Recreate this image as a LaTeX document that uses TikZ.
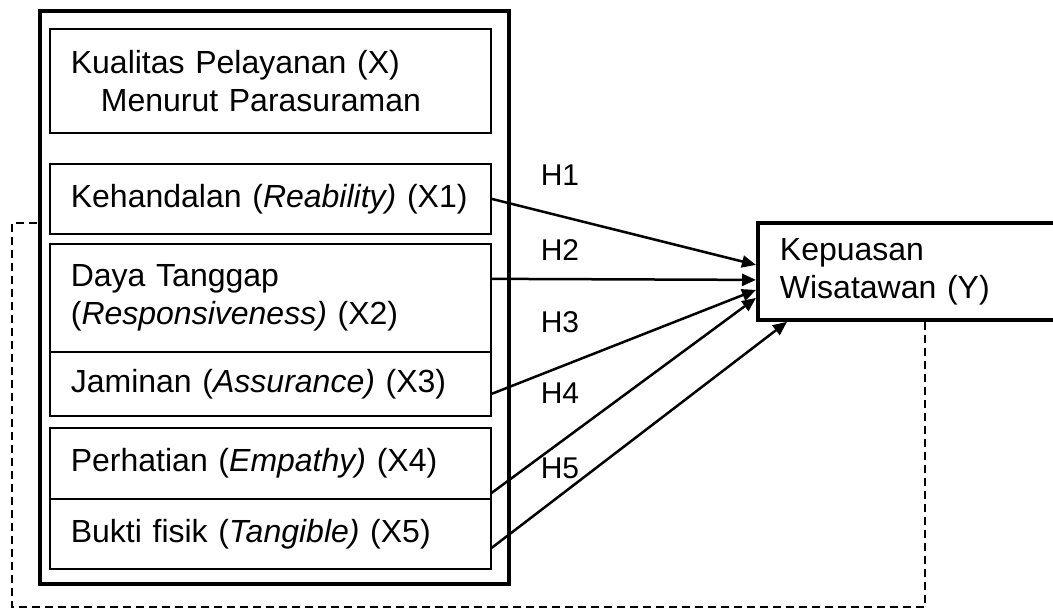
\documentclass[tikz,border=0pt]{standalone}
\usepackage{fontspec}
\setmainfont{Liberation Sans}
\usetikzlibrary{arrows.meta}
\begin{document}
\begin{tikzpicture}[x=0.5pt,y=-0.5pt,
  every node/.style={font=\fontsize{16}{19}\selectfont},
  ibox/.style={draw, line width=0.85pt, anchor=north west, minimum width=220.5pt, text width=199.5pt, inner xsep=10.5pt, inner ysep=0pt, align=left},
  obox/.style={draw, line width=1.9pt, anchor=north west, minimum width=234.5pt, minimum height=286.5pt, inner sep=0pt},
  ybox/.style={draw, line width=1.9pt, anchor=north west, minimum width=167pt, minimum height=48.5pt, text width=145pt, inner xsep=11pt, inner ysep=0pt, align=left},
  hl/.style={font=\fontsize{15}{17}\selectfont, inner sep=0pt},
  arr/.style={line width=1.25pt, -{Triangle[length=7pt,width=6pt]}},
  fb/.style={line width=0.85pt, dash pattern=on 4pt off 2.5pt}]
\clip (0,0) rectangle (1053,615);
% outer frame
\node[obox] (outer) at (38,9) {};
% inner boxes
\node[ibox, minimum height=52pt] (kx) at (49,28) {Kualitas Pelayanan (X)\\\hspace*{15pt}Menurut Parasuraman};
\node[ibox, minimum height=35pt] (x1) at (49,163) {Kehandalan (\textit{Reability)} (X1)};
\node[ibox, minimum height=54pt] (x2) at (49,243) {Daya Tanggap\\(\textit{Responsiveness)} (X2)};
\node[ibox, minimum height=32pt] (x3) at (49,351) {Jaminan (\textit{Assurance)} (X3)};
\node[ibox, minimum height=35.5pt] (x4) at (49,427) {Perhatian (\textit{Empathy)} (X4)};
\node[ibox, minimum height=35pt] (x5) at (49,498) {Bukti fisik (\textit{Tangible)} (X5)};
% dependent variable
\node[ybox] (y) at (756,221) {Kepuasan\\Wisatawan (Y)};
% feedback dashed line
\coordinate (fbc) at (12,607);
\draw[fb] (y.south) |- (fbc) |- ([yshift=37.25pt]outer.west);
% hypotheses arrows
\draw[arr] (x1.east) -- ([yshift=3.25pt]y.west);
\draw[arr] ([yshift=9.5pt]x2.east) -- ([yshift=-4.25pt]y.west);
\draw[arr] ([yshift=-5pt]x3.east) -- ([yshift=-9.25pt]y.west);
\draw[arr] ([yshift=-14.75pt]x4.east) -- ([yshift=-13.25pt]y.west);
\draw[arr] ([yshift=-7pt]x5.east) -- ([xshift=15.5pt]y.south west);
% labels
\node[hl] (h1) at (560,175) {H1};
\node[hl] (h2) at (560,250) {H2};
\node[hl] (h3) at (560,322) {H3};
\node[hl] (h4) at (560,393) {H4};
\node[hl] (h5) at (560,468) {H5};
\end{tikzpicture}
\end{document}
